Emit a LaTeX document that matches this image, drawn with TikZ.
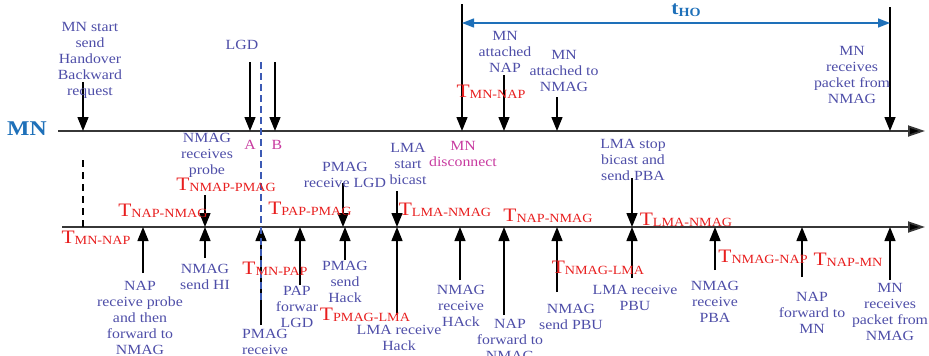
\documentclass[tikz,border=0pt]{standalone}
\usepackage{fontspec}
\setmainfont{Liberation Serif}[FakeStretch=1.13]
\usetikzlibrary{arrows.meta}
\definecolor{txt}{RGB}{78,78,168}
\definecolor{tred}{RGB}{232,30,30}
\definecolor{mag}{RGB}{200,60,160}
\definecolor{mnblue}{RGB}{30,112,185}
\definecolor{axisgray}{RGB}{55,55,55}
\definecolor{dblue}{RGB}{60,90,180}
\newcommand{\TT}[1]{{\fontsize{19}{19}\selectfont T}{\fontsize{12.5}{12.5}\selectfont\raisebox{-1.5pt}{#1}}}
\tikzset{
  lbl/.style={align=center, text=txt, font=\fontsize{14}{16}\selectfont, inner sep=0pt},
  maglbl/.style={align=center, text=mag, font=\fontsize{14}{16}\selectfont, inner sep=0pt},
  tlab/.style={text=tred, inner sep=0pt},
  arr/.style={line width=1.4pt, draw=black, -{Triangle[length=14pt,width=11pt]}},
  axisline/.style={line width=1.8pt, draw=axisgray, -{Triangle[length=17pt,width=11pt,fill=black]}},
}
\begin{document}
\begin{tikzpicture}[x=1pt,y=-1pt]
\useasboundingbox (0,0) rectangle (929,356);
\clip (0,0) rectangle (929,356);
% axes
\coordinate (mn0) at (58,131);
\coordinate (mn1) at (925,131);
\coordinate (bt0) at (62,227);
\coordinate (bt1) at (925,227);
\draw[axisline] (mn0) -- (mn1);
\draw[axisline] (bt0) -- (bt1);
\node[text=mnblue, font=\fontsize{21}{21}\selectfont\bfseries, inner sep=0pt] (mnlab) at (27,129) {MN};

% arrows down to MN axis
\foreach \n/\x/\y in {d1/83/82, dA/250/62, dB/275/62, dD/462/4, dN/504/75, dG/557/97, dR/890/7}{
  \coordinate (\n s) at (\x,\y);
  \coordinate (\n e) at (\x,131);
  \draw[arr] (\n s) -- (\n e);
}
% arrows down to bottom axis
\foreach \n/\x/\y in {m1/205/195, m2/343/183, m3/397/191, m4/632/178}{
  \coordinate (\n s) at (\x,\y);
  \coordinate (\n e) at (\x,227);
  \draw[arr] (\n s) -- (\n e);
}
% arrows up to bottom axis
\foreach \n/\x/\y in {u1/143/273, u2/205/258, u3/261/325, u4/300/285, u5/345/260, u6/397/315, u7/460/280, u8/504/315, u9/557/292, u10/632/278, u11/715/270, u12/802/277, u13/890/280}{
  \coordinate (\n s) at (\x,\y);
  \coordinate (\n e) at (\x,227);
  \draw[arr] (\n s) -- (\n e);
}
% dashed lines
\coordinate (k1) at (83,160);
\coordinate (k2) at (83,227);
\draw[line width=1.4pt, black, dash pattern=on 7pt off 5pt] (k1) -- (k2);
\coordinate (b1) at (261,62);
\coordinate (b2) at (261,300);
\draw[line width=1.3pt, dblue, dash pattern=on 7pt off 4pt] (b1) -- (b2);

% t_HO
\coordinate (ho0) at (462,23);
\coordinate (ho1) at (890,23);
\draw[line width=1.4pt, mnblue, {Triangle[length=12pt,width=9pt]}-{Triangle[length=12pt,width=9pt]}] (ho0) -- (ho1);
\node[text=mnblue, inner sep=0pt] (tho) at (686,10) {{\fontsize{19}{19}\selectfont\bfseries t}{\fontsize{12.5}{12.5}\selectfont\bfseries\raisebox{-1.5pt}{HO}}};

% top labels
\node[lbl] (t1) at (90,60) {MN start\\send\\Handover\\Backward\\request};
\node[lbl] (t2) at (242,45) {LGD};
\node[lbl] (t3) at (505,52) {MN\\attached\\NAP};
\node[lbl] (t4) at (564,71) {MN\\attached to\\NMAG};
\node[lbl] (t5) at (852,75) {MN\\receives\\packet from\\NMAG};
\node[tlab] (r1) at (491,92) {\TT{MN-NAP}};
\node[maglbl] (ma) at (250,145) {A};
\node[maglbl] (mb) at (277,145) {B};
\node[maglbl] (md) at (463,154) {MN\\disconnect};

% middle labels
\node[lbl] (c1) at (207,155) {NMAG\\receives\\probe};
\node[tlab] (r2) at (226,185) {\TT{NMAP-PMAG}};
\node[tlab] (r3) at (163,211) {\TT{NAP-NMAG}};
\node[tlab] (r4) at (310,209) {\TT{PAP-PMAG}};
\node[lbl] (c2) at (345,175) {PMAG\\receive LGD};
\node[lbl] (c3) at (408,164) {LMA\\start\\bicast};
\node[tlab] (r5) at (445,210) {\TT{LMA-NMAG}};
\node[tlab] (r6) at (548,216) {\TT{NAP-NMAG}};
\node[lbl] (c4) at (633,160) {LMA stop\\bicast and\\send PBA};
\node[tlab] (r7) at (686,220) {\TT{LMA-NMAG}};

% bottom labels
\node[tlab] (r8) at (96,238) {\TT{MN-NAP}};
\node[lbl] (e1) at (140,318) {NAP\\receive probe\\and then\\forward to\\NMAG};
\node[lbl] (e2) at (205,277) {NMAG\\send HI};
\node[tlab] (r9) at (275,269) {\TT{MN-PAP}};
\node[lbl] (e3) at (265,342) {PMAG\\receive};
\node[lbl] (e4) at (297,307) {PAP\\forwar\\LGD};
\node[lbl] (e5) at (345,282) {PMAG\\send\\Hack};
\node[tlab] (r10) at (365,315) {\TT{PMAG-LMA}};
\node[lbl] (e6) at (399,338) {LMA receive\\Hack};
\node[lbl] (e7) at (461,306) {NMAG\\receive\\HAck};
\node[lbl] (e8) at (510,340) {NAP\\forward to\\NMAG};
\node[lbl] (e9) at (571,317) {NMAG\\send PBU};
\node[tlab] (r11) at (598,268) {\TT{NMAG-LMA}};
\node[lbl] (e10) at (635,298) {LMA receive\\PBU};
\node[lbl] (e11) at (715,302) {NMAG\\receive\\PBA};
\node[tlab] (r12) at (763,257) {\TT{NMAG-NAP}};
\node[lbl] (e12) at (812,313) {NAP\\forward to\\MN};
\node[tlab] (r13) at (848,260) {\TT{NAP-MN}};
\node[lbl] (e13) at (890,312) {MN\\receives\\packet from\\NMAG};
\end{tikzpicture}
\end{document}
